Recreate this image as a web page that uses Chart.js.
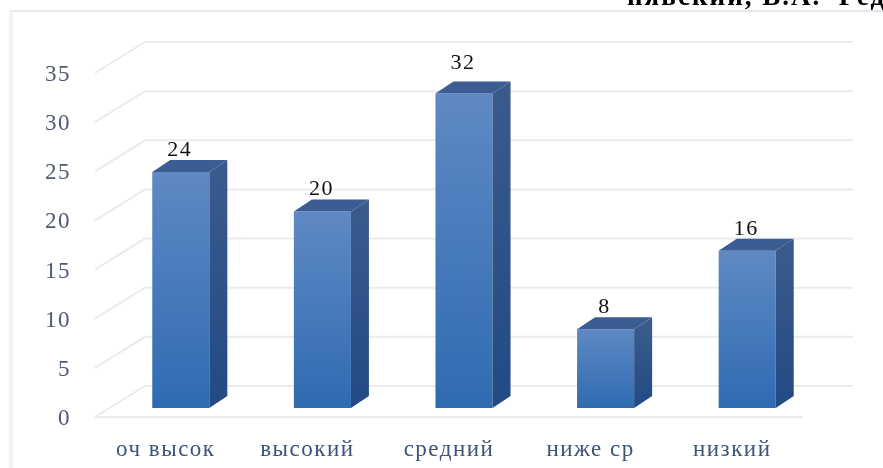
<!DOCTYPE html>
<html>
<head>
<meta charset="utf-8">
<style>
  html, body { margin: 0; padding: 0; background: #fff; overflow: hidden; }
  #wrap { position: relative; width: 883px; height: 468px; overflow: hidden; }
  #frame { position: absolute; left: 9px; top: 10px; right: -10px; bottom: -10px;
           border-top: 2px solid #e4e6f2; border-left: 4px solid #eef2f9; }
  #heading { position: absolute; left: 627px; top: -19px; white-space: pre;
             font: bold 27px "Liberation Serif", serif; letter-spacing: 2px; color: #000; }
  canvas { position: absolute; left: 0; top: 0; filter: blur(0.75px); }
</style>
</head>
<body>
<div id="wrap">
  <div id="frame"></div>
  <canvas id="myChart" width="883" height="468"></canvas>
  <div id="heading">нявский, В.А.  Ред</div>
</div>
<script src="https://cdn.jsdelivr.net/npm/chart.js@4"></script>
<script>
const categories = ["оч высок", "высокий", "средний", "ниже ср", "низкий"];
const values = [24, 20, 32, 8, 16];
const yMax = 35;
const yStep = 5;

const serif = '"Liberation Serif", serif';

// fake 3D: everything hangs off the bar plane by these offsets
const depthX = 18;
const depthY = 12;
const wallX = 35;    // wall grid starts this far left of the plot edge
const wallUp = 22;   // wall sits above the bar plane
const frontDown = 9; // front floor edge sits below the bar plane

const fake3d = {
  id: "fake3d",
  beforeDraw(chart) {
    // wide, stretched look of the original text
    chart.ctx.letterSpacing = "1.5px";
  },
  beforeDatasetsDraw(chart) {
    const { ctx, scales: { y }, chartArea } = chart;
    ctx.save();
    ctx.strokeStyle = "#ebebeb";
    ctx.lineWidth = 2;
    y.ticks.forEach(t => {
      const py = y.getPixelForValue(t.value);
      ctx.beginPath();
      ctx.moveTo(95, py + frontDown);
      ctx.lineTo(chartArea.left + wallX, py - wallUp);
      ctx.lineTo(853, py - wallUp);
      ctx.stroke();
    });
    // floor front edge
    const py0 = y.getPixelForValue(0) + frontDown;
    ctx.beginPath();
    ctx.moveTo(95, py0);
    ctx.lineTo(803, py0);
    ctx.stroke();
    ctx.restore();
  },
  afterDatasetsDraw(chart) {
    const { ctx } = chart;
    const bars = chart.getDatasetMeta(0).data;
    const top = Math.max(...values);
    ctx.save();
    bars.forEach((bar, i) => {
      const half = bar.width / 2;
      const right = bar.x + half;
      const left = bar.x - half;
      // side face
      const side = ctx.createLinearGradient(0, bar.y, 0, bar.base);
      side.addColorStop(0, "#3a5a8c");
      side.addColorStop(1, "#224a84");
      ctx.fillStyle = side;
      ctx.beginPath();
      ctx.moveTo(right, bar.y);
      ctx.lineTo(right + depthX, bar.y - depthY);
      ctx.lineTo(right + depthX, bar.base - depthY);
      ctx.lineTo(right, bar.base);
      ctx.closePath();
      ctx.fill();
      // top face
      ctx.fillStyle = "#3b5d94";
      ctx.beginPath();
      ctx.moveTo(left, bar.y);
      ctx.lineTo(left + depthX, bar.y - depthY);
      ctx.lineTo(right + depthX, bar.y - depthY);
      ctx.lineTo(right, bar.y);
      ctx.closePath();
      ctx.fill();
      // value label, the tallest one sits higher in the original
      ctx.fillStyle = "#111";
      ctx.font = "22px " + serif;
      ctx.textAlign = "center";
      ctx.textBaseline = "middle";
      ctx.fillText(String(values[i]), bar.x - 1, bar.y - (values[i] === top ? 30 : 22));
    });
    ctx.restore();
  }
};

const myChart = new Chart(document.getElementById("myChart").getContext("2d"), {
  type: "bar",
  plugins: [fake3d],
  data: {
    labels: categories,
    datasets: [{
      label: "Ряд 1",
      data: values,
      barPercentage: 0.403,
      categoryPercentage: 1,
      backgroundColor(c) {
        const { ctx, chartArea, scales } = c.chart;
        if (!chartArea || c.parsed === undefined) return "#4a7abb";
        const g = ctx.createLinearGradient(0, scales.y.getPixelForValue(c.parsed.y), 0, scales.y.getPixelForValue(0));
        g.addColorStop(0, "#5f89c4");
        g.addColorStop(1, "#2f6bb1");
        return g;
      }
    }]
  },
  options: {
    responsive: false,
    animation: false,
    devicePixelRatio: 1,
    layout: { padding: { top: 64, right: 65, left: 0, bottom: 0 } },
    plugins: { legend: { display: false }, tooltip: { enabled: false } },
    scales: {
      x: {
        afterFit(s) { s.height = 60; },
        grid: { display: false, drawTicks: false },
        border: { display: false },
        ticks: {
          padding: 28,
          labelOffset: -15,
          maxRotation: 0,
          color: "#3f5278",
          font: { family: serif, size: 23 }
        }
      },
      y: {
        min: 0,
        max: yMax,
        afterFit(s) { s.width = 110; },
        grid: { display: false, drawTicks: false },
        border: { display: false },
        ticks: {
          stepSize: yStep,
          padding: 39,
          labelOffset: 11,
          color: "#505a6e",
          font: { family: serif, size: 23 }
        }
      }
    }
  }
});
</script>
</body>
</html>
